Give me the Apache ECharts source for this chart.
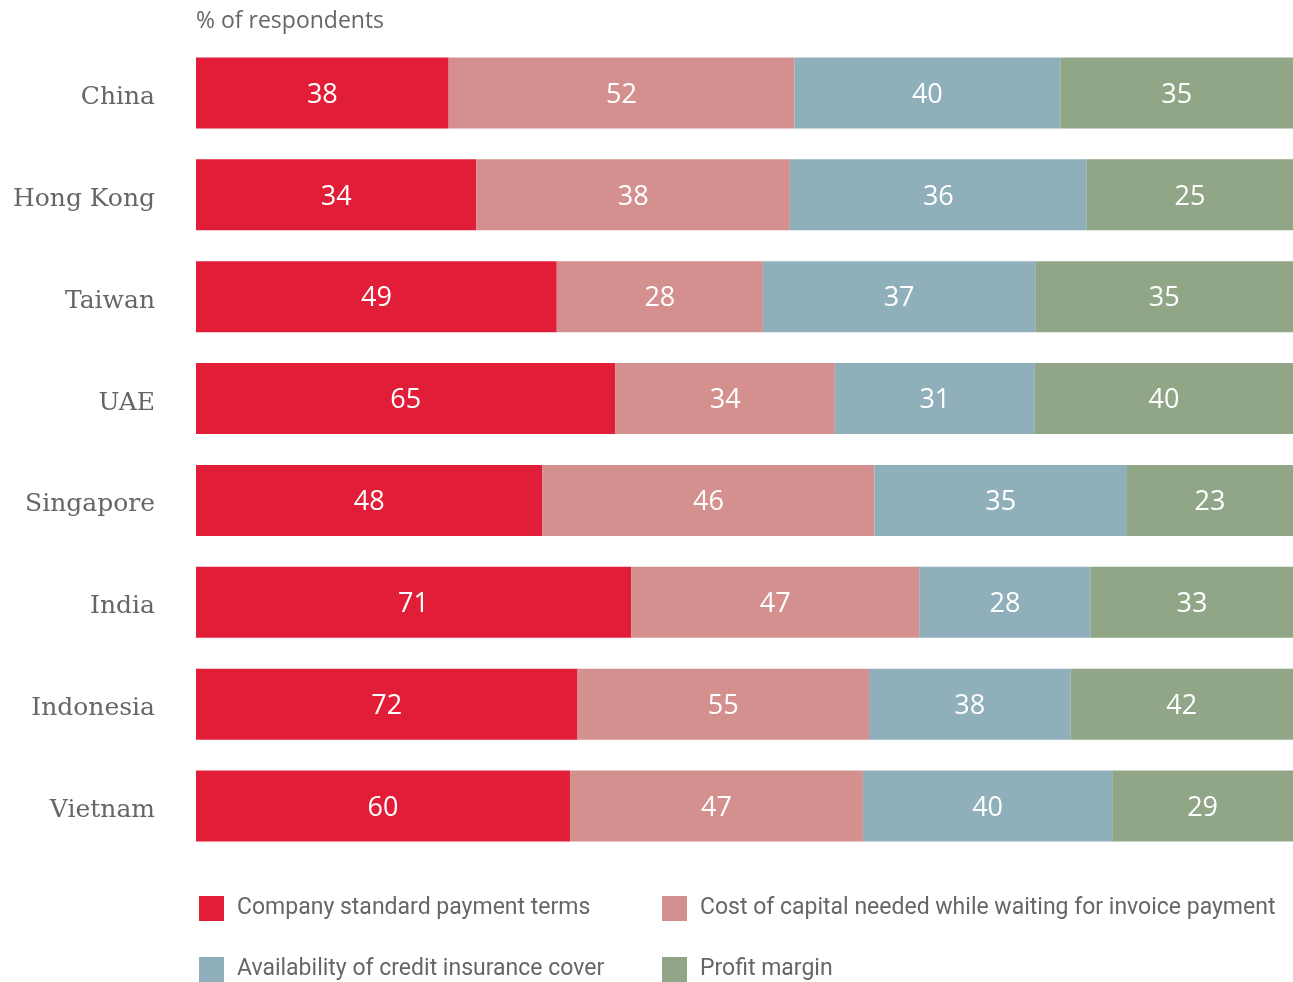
<!DOCTYPE html>
<html>
<head>
<meta charset="utf-8">
<style>
  html, body { margin: 0; padding: 0; background: #ffffff; }
  #chart { width: 1293px; height: 982px; }
</style>
<script src="https://cdn.jsdelivr.net/npm/echarts@6/dist/echarts.min.js"></script>
</head>
<body>
<div id="chart"></div>
<script>
// Markets, top to bottom
const markets = ['China', 'Hong Kong', 'Taiwan', 'UAE', 'Singapore', 'India', 'Indonesia', 'Vietnam'];

// Factor names
const seriesNames = [
  'Company standard payment terms',
  'Cost of capital needed while waiting for invoice payment',
  'Availability of credit insurance cover',
  'Profit margin'
];

// % of respondents for each factor, per market
const paymentTerms   = [38, 34, 49, 65, 48, 71, 72, 60];
const costOfCapital  = [52, 38, 28, 34, 46, 47, 55, 47];
const creditCover    = [40, 36, 37, 31, 35, 28, 38, 40];
const profitMargin   = [35, 25, 35, 40, 23, 33, 42, 29];

const colors = ['#E21D38', '#D4908E', '#8FAFBB', '#90A686'];
const allValues = [paymentTerms, costOfCapital, creditCover, profitMargin];

// Each row fills the full width: bar length is the factor's share of the row total
const rowTotals = markets.map((_, i) => allValues.reduce((s, arr) => s + arr[i], 0));

const sansFont = '"Roboto", "Noto Sans", sans-serif';

const series = allValues.map((arr, k) => ({
  name: seriesNames[k],
  type: 'bar',
  stack: 'total',
  barWidth: 71,
  itemStyle: { color: colors[k] },
  label: {
    show: true,
    position: 'inside',
    offset: [0, 2],
    color: '#ffffff',
    fontSize: 27,
    fontFamily: '"Open Sans", "Noto Sans", sans-serif',
    formatter: p => arr[p.dataIndex]
  },
  data: arr.map((v, i) => v / rowTotals[i] * 100)
}));

const legendText = { color: '#666666', fontSize: 23, fontFamily: sansFont, padding: [0, 0, 0, 8] };

const chart = echarts.init(document.getElementById('chart'));
chart.setOption({
  animation: false,
  title: {
    text: '% of respondents',
    left: 196,
    top: 10,
    padding: 0,
    textStyle: { color: '#666666', fontSize: 23, fontWeight: 'normal', fontFamily: '"Open Sans", "Noto Sans", sans-serif' }
  },
  grid: { left: 196, right: 0, top: 42, height: 815 },
  xAxis: {
    type: 'value', min: 0, max: 100,
    show: false
  },
  yAxis: {
    type: 'category',
    inverse: true,
    data: markets,
    axisLine: { show: false },
    axisTick: { show: false },
    axisLabel: {
      margin: 41,
      formatter: '{name|{value}}',
      rich: {
        name: {
          color: '#666666',
          fontSize: 25,
          padding: [9, 0, 0, 0],
          fontFamily: '"DejaVu Serif", "Liberation Serif", serif'
        }
      }
    }
  },
  legend: [
    {
      data: [seriesNames[0], seriesNames[2]],
      orient: 'vertical',
      left: 199,
      top: 896,
      padding: 0,
      itemWidth: 25, itemHeight: 25, itemGap: 36,
      icon: 'rect',
      textStyle: legendText
    },
    {
      data: [seriesNames[1], seriesNames[3]],
      orient: 'vertical',
      left: 662,
      top: 896,
      padding: 0,
      itemWidth: 25, itemHeight: 25, itemGap: 36,
      icon: 'rect',
      textStyle: legendText
    }
  ],
  series: series
});
</script>
</body>
</html>
